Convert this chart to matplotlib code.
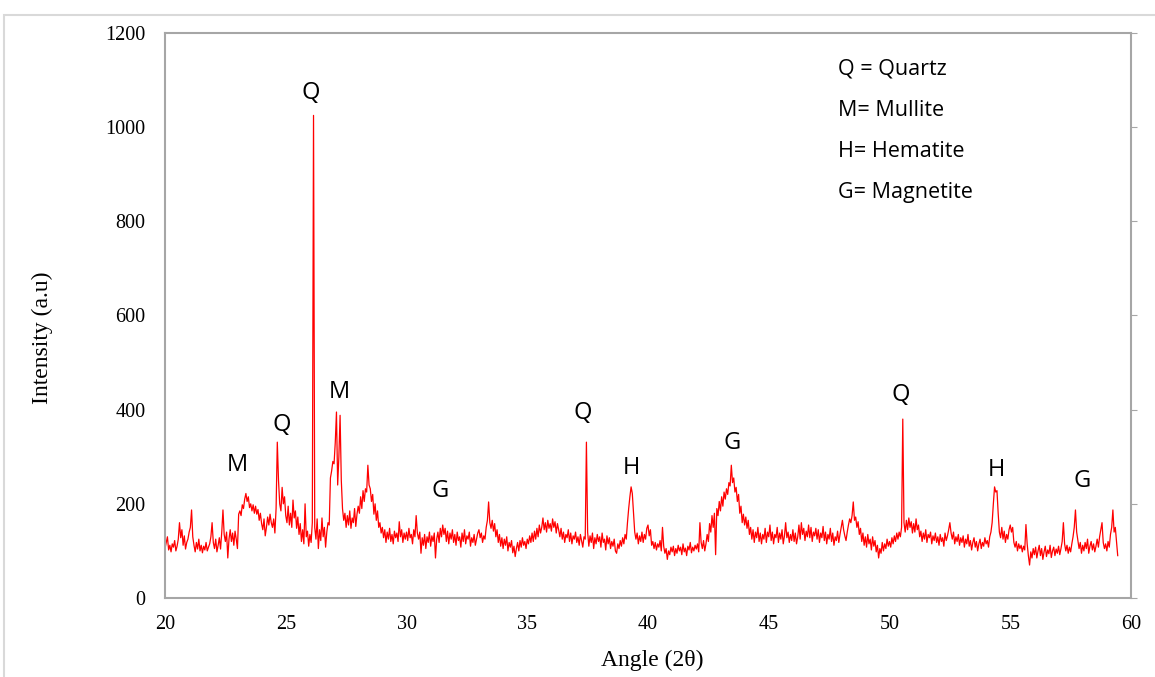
import numpy as np
import matplotlib.pyplot as plt
from matplotlib.patches import Rectangle

# XRD scan, 0.05 deg steps from 20.00
start_angle = 20.0
step = 0.05
intensity = [
    105, 118, 130, 102, 112, 98, 115, 108, 122, 100, 110, 125, 160, 128, 145, 112, 132, 104, 118, 125,
    140, 150, 187, 130, 112, 98, 118, 104, 125, 100, 112, 96, 110, 102, 118, 100, 108, 115, 130, 160,
    118, 105, 125, 98, 112, 128, 104, 140, 187, 135, 120, 140, 85, 125, 145, 120, 138, 112, 142, 125,
    105, 178, 185, 175, 198, 190, 210, 222, 205, 215, 192, 200, 185, 198, 180, 195, 178, 188, 165, 180,
    158, 145, 168, 132, 150, 172, 155, 178, 160, 150, 168, 138, 190, 331, 250, 200, 185, 235, 200, 215,
    175, 160, 195, 155, 180, 150, 208, 170, 185, 148, 172, 135, 158, 120, 145, 115, 200, 130, 142, 110,
    135, 118, 160, 1025, 150, 125, 168, 105, 145, 122, 170, 130, 150, 108, 140, 160, 155, 255, 270, 290,
    285, 330, 395, 240, 300, 388, 250, 190, 165, 180, 150, 175, 155, 185, 148, 170, 160, 190, 152, 178,
    195, 180, 215, 190, 228, 205, 232, 225, 282, 240, 232, 205, 220, 178, 200, 165, 185, 150, 160, 138,
    150, 128, 145, 118, 140, 125, 148, 120, 135, 115, 142, 128, 138, 120, 162, 130, 145, 118, 138, 125,
    140, 122, 148, 128, 135, 115, 145, 130, 175, 138, 125, 140, 95, 128, 112, 135, 105, 130, 118, 140,
    110, 132, 120, 138, 85, 125, 140, 118, 148, 130, 155, 135, 148, 120, 142, 115, 138, 125, 145, 118,
    135, 112, 140, 122, 130, 108, 138, 120, 145, 115, 132, 125, 140, 110, 128, 118, 135, 112, 125, 138,
    145, 128, 138, 118, 132, 125, 150, 165, 204, 160, 148, 165, 142, 158, 130, 145, 118, 135, 110, 128,
    105, 125, 112, 130, 100, 118, 108, 122, 96, 110, 88, 105, 118, 100, 122, 108, 128, 112, 120, 105,
    125, 115, 132, 118, 138, 120, 142, 125, 148, 130, 155, 138, 150, 170, 145, 160, 140, 165, 148, 158,
    142, 168, 150, 162, 138, 158, 145, 130, 148, 125, 140, 118, 135, 128, 145, 120, 138, 115, 132, 125,
    140, 118, 130, 112, 135, 122, 108, 130, 125, 331, 140, 110, 132, 118, 138, 105, 128, 115, 135, 120,
    130, 108, 138, 118, 125, 102, 132, 115, 128, 105, 120, 110, 125, 100, 95, 115, 105, 122, 110, 128,
    115, 135, 125, 160, 190, 215, 236, 222, 180, 140, 125, 138, 115, 132, 120, 140, 118, 135, 125, 148,
    155, 132, 145, 112, 120, 105, 118, 102, 115, 108, 122, 100, 150, 110, 95, 105, 82, 100, 92, 108,
    98, 110, 90, 105, 95, 112, 100, 108, 92, 115, 98, 106, 90, 110, 102, 118, 96, 108, 100, 112,
    104, 115, 98, 160, 118, 105, 122, 100, 115, 135, 120, 158, 140, 175, 150, 180, 92, 190, 175, 205,
    185, 215, 195, 225, 210, 232, 220, 245, 238, 282, 245, 255, 225, 235, 205, 220, 180, 195, 160, 178,
    155, 172, 148, 165, 135, 150, 125, 145, 118, 140, 128, 150, 120, 138, 115, 135, 125, 148, 118, 140,
    130, 155, 122, 140, 115, 135, 128, 150, 118, 138, 125, 145, 115, 132, 160, 128, 140, 118, 135, 122,
    145, 120, 138, 115, 130, 155, 125, 160, 135, 148, 122, 142, 130, 155, 128, 150, 120, 140, 132, 148,
    125, 145, 118, 138, 128, 152, 122, 140, 115, 135, 125, 148, 120, 138, 112, 130, 122, 142, 118, 135,
    150, 165, 145, 132, 122, 140, 155, 168, 160, 175, 204, 165, 172, 150, 162, 135, 148, 120, 138, 112,
    130, 108, 135, 115, 125, 102, 130, 110, 122, 98, 112, 85, 105, 95, 118, 100, 115, 105, 125, 110,
    120, 108, 128, 115, 132, 120, 138, 125, 140, 130, 150, 380, 160, 140, 165, 145, 170, 150, 162, 138,
    158, 140, 168, 145, 155, 130, 142, 120, 138, 125, 145, 118, 135, 128, 140, 115, 132, 122, 138, 118,
    130, 112, 135, 120, 128, 110, 138, 122, 132, 145, 160, 138, 125, 140, 115, 130, 120, 135, 112, 128,
    118, 132, 108, 125, 115, 135, 110, 122, 102, 118, 128, 108, 120, 100, 115, 125, 105, 118, 110, 128,
    115, 122, 108, 130, 140, 160, 200, 236, 225, 228, 180, 140, 128, 150, 125, 142, 118, 135, 125, 145,
    155, 140, 150, 118, 108, 120, 100, 115, 105, 112, 98, 110, 102, 156, 115, 90, 70, 98, 85, 105,
    92, 108, 85, 100, 112, 90, 105, 82, 98, 110, 88, 102, 94, 112, 86, 100, 108, 90, 104, 95,
    110, 92, 105, 120, 160, 115, 100, 112, 95, 108, 98, 115, 130, 150, 187, 140, 122, 105, 118, 95,
    112, 100, 118, 105, 125, 95, 110, 120, 102, 115, 98, 110, 125, 108, 130, 145, 160, 118, 105, 115,
    100, 120, 108, 135, 150, 187, 140, 150, 120, 90,
]
angle = start_angle + step * np.arange(len(intensity))

# phase labels above the peaks
label_text = ["M", "Q", "Q", "M", "G", "Q", "H", "G", "Q", "H", "G"]
label_x = [22.98, 24.84, 26.05, 27.2, 31.39, 37.31, 39.3, 43.48, 50.48, 54.41, 57.97]
label_y = [282, 367, 1072, 437, 227, 393, 276, 329, 431, 272, 248]

legend_lines = ["Q = Quartz", "M= Mullite", "H= Hematite", "G= Magnetite"]

fig = plt.figure(figsize=(11.55, 6.77), dpi=100)
ax = fig.add_axes([165 / 1155, 1 - 598 / 677, (1131 - 165) / 1155, (598 - 33) / 677])

# light frame around the whole chart
fig.patches.append(Rectangle((4 / 1155, -0.01), 1.1, 1 - 15 / 677 + 0.01,
                             transform=fig.transFigure, fill=False,
                             edgecolor="#d9d9d9", linewidth=1.5))

ax.plot(angle, intensity, color="#ff0000", linewidth=0.9)

ax.set_xlim(20, 60)
ax.set_ylim(0, 1200)
ax.set_xticks(np.arange(20, 61, 5))
ax.set_yticks(np.arange(0, 1201, 200))

serif = "Liberation Serif"
for lbl in ax.get_xticklabels() + ax.get_yticklabels():
    lbl.set_fontfamily(serif)
    lbl.set_fontsize(14.5)
ax.tick_params(axis="both", colors="#a6a6a6", labelcolor="black", length=4)
ax.tick_params(axis="y", left=False, right=True, direction="out", pad=10)
ax.tick_params(axis="x", bottom=False, pad=8)

for side in ["left", "bottom", "top", "right"]:
    ax.spines[side].set_color("#a6a6a6")
    ax.spines[side].set_linewidth(1.5)

ax.set_xlabel("Angle (2θ)", fontfamily=serif, fontsize=17)
ax.set_ylabel("Intensity (a.u)", fontfamily=serif, fontsize=17)
ax.yaxis.set_label_coords(-0.116, 0.46)
ax.xaxis.set_label_coords(0.504, -0.091)

for t, x, y in zip(label_text, label_x, label_y):
    ax.text(x, y, t, fontfamily="Open Sans", fontsize=17, ha="center", va="center")

for i, line in enumerate(legend_lines):
    ax.text(0.697, 0.936 - i * 0.073, line, transform=ax.transAxes,
            fontfamily="Open Sans", fontsize=15.5, ha="left", va="center")

fig.savefig("out.png", dpi=100)
